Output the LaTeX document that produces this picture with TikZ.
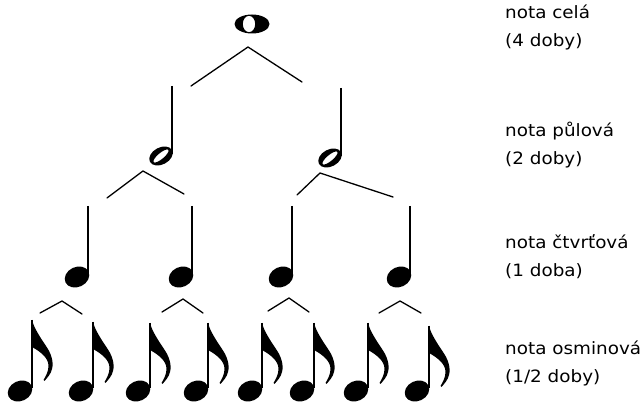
\documentclass[tikz,border=0pt]{standalone}
\usepackage{fontspec}
\setmainfont{DejaVu Sans}
\newcommand{\lbltext}[1]{\scalebox{1.08}[1]{#1}}
\begin{document}
\begin{tikzpicture}[x=1pt,y=-1pt,
  branch/.style={line width=1.3pt, line join=round, line cap=round},
  stemline/.style={line width=1.5pt},
  lbl/.style={anchor=base west, inner sep=0pt, font=\fontsize{17}{17}\selectfont},
  pics/wholehead/.style={code={
    \fill[even odd rule] (0,0) ellipse [x radius=17.5, y radius=9.5]
      (-3,0) ellipse [x radius=6.2, y radius=8.2];}},
  pics/halfhead/.style={code={
    \fill[even odd rule] [rotate=28] (0,0) ellipse [x radius=12.5, y radius=8.5]
      [rotate=12] (0,0) ellipse [x radius=9.6, y radius=3];}},
  pics/solidhead/.style={code={
    \fill[rotate=25] (0,0) ellipse [x radius=12.7, y radius=10];}},
  pics/flag/.style={code={
    \fill (0,0) .. controls (2,8) and (8,17) .. (14,26)
      .. controls (19,33) and (22,42) .. (20,49)
      .. controls (19,54) and (15,58) .. (12.5,61)
      -- (11.5,60)
      .. controls (14,56) and (16.5,51) .. (16.5,46)
      .. controls (16.5,38) and (9,32) .. (0,27) -- cycle;}}
]
\useasboundingbox (0,0) rectangle (643,403);

% ---- whole note ----
\coordinate (w) at (252,24);
\begin{scope}[shift={(w)}, rotate=-12]
  \pic at (0,0) {wholehead};
\end{scope}

% ---- half notes ----
\coordinate (h1) at (161,156);
\coordinate (h2) at (330,158);
\coordinate (h1top) at (172,86);
\coordinate (h2top) at (341,88);
\pic at (h1) {halfhead};
\pic at (h2) {halfhead};
\draw[stemline] (h1top) -- (172,154);
\draw[stemline] (h2top) -- (341,156);

% ---- quarter notes ----
\foreach \i/\sx in {1/88, 2/192, 3/292, 4/410} {
  \coordinate (q\i top) at (\sx,206);
  \coordinate (q\i) at (\sx-11,277);
  \pic at (q\i) {solidhead};
  \draw[stemline] (q\i top) -- (\sx,274);
}

% ---- eighth notes ----
\foreach \i/\sx/\ty in {1/32/320, 2/93/322, 3/150/323, 4/208/323,
                         5/262/323, 6/314/323, 7/368/323, 8/429/326} {
  \coordinate (e\i top) at (\sx,\ty);
  \coordinate (e\i) at (\sx-12,391);
  \pic at (e\i) {solidhead};
  \draw[stemline] (e\i top) -- (\sx,388);
  \pic at (e\i top) {flag};
}

% ---- branching lines ----
\coordinate (a0) at (248,47);
\coordinate (a0l) at (191,86);
\coordinate (a0r) at (302,82);
\draw[branch] (a0l) -- (a0) -- (a0r);

\coordinate (a1) at (143,171);
\coordinate (a1l) at (107,198);
\coordinate (a1r) at (184,194);
\draw[branch] (a1l) -- (a1) -- (a1r);

\coordinate (a2) at (320,173);
\coordinate (a2l) at (297,195);
\coordinate (a2r) at (393,197);
\draw[branch] (a2l) -- (a2) -- (a2r);

\foreach \i/\ax/\ay/\lx/\ly/\rx/\ry in {
   1/62/301/40/313/82/314,
   2/183/299/162/312/203/313,
   3/289/298/268/311/309/312,
   4/400/301/379/313/421/313} {
  \coordinate (b\i) at (\ax,\ay);
  \coordinate (b\i l) at (\lx,\ly);
  \coordinate (b\i r) at (\rx,\ry);
  \draw[branch] (b\i l) -- (b\i) -- (b\i r);
}

% ---- labels ----
\node[lbl] (t1a) at (505,19)  {\lbltext{nota celá}};
\node[lbl] (t1b) at (505,47)  {\lbltext{(4 doby)}};
\node[lbl] (t2a) at (505,137) {\lbltext{nota půlová}};
\node[lbl] (t2b) at (505,165) {\lbltext{(2 doby)}};
\node[lbl] (t3a) at (505,249) {\lbltext{nota čtvrťová}};
\node[lbl] (t3b) at (505,277) {\lbltext{(1 doba)}};
\node[lbl] (t4a) at (505,355) {\lbltext{nota osminová}};
\node[lbl] (t4b) at (505,383) {\lbltext{(1/2 doby)}};
\end{tikzpicture}
\end{document}
